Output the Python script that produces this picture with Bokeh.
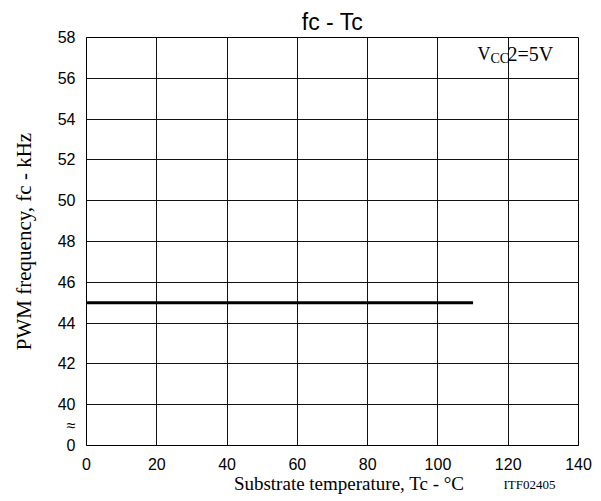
from bokeh.plotting import figure
from bokeh.models import Range1d, Label, FixedTicker, Title
from bokeh.embed import file_html
from bokeh.resources import INLINE

# Data
temps = [0, 110]
freq_khz = [45, 45]
x_ticks = [0, 20, 40, 60, 80, 100, 120, 140]
grid_y = [38, 40, 42, 44, 46, 48, 50, 52, 54, 56, 58]
y_ticks = [38, 39, 40, 42, 44, 46, 48, 50, 52, 54, 56, 58]
y_labels = {38: "0", 39: "≈"}

p = figure(width=600, height=500, output_backend="svg", toolbar_location=None,
           x_range=Range1d(0, 140), y_range=Range1d(38, 58),
           min_border_left=86, min_border_right=22, min_border_top=37, min_border_bottom=55)
p.background_fill_color = "white"
p.border_fill_color = "white"
p.outline_line_color = "black"
p.outline_line_width = 1

p.title.text = "fc - Tc"
p.title.align = "center"
p.title.text_font = "Liberation Sans"
p.title.text_font_size = "23px"
p.title.text_font_style = "normal"
p.title.text_color = "black"
p.title.standoff = 6

p.xaxis.ticker = FixedTicker(ticks=x_ticks)
p.yaxis.ticker = FixedTicker(ticks=y_ticks)
p.yaxis.major_label_overrides = {k: v for k, v in y_labels.items()}
for ax in (p.xaxis[0], p.yaxis[0]):
    ax.major_tick_line_color = None
    ax.minor_tick_line_color = None
    ax.axis_line_color = "black"
    ax.axis_line_width = 1
    ax.major_label_text_font = "Liberation Sans"
    ax.major_label_text_font_size = "16px"
    ax.major_label_text_color = "black"
    ax.axis_label_text_font = "Liberation Serif"
    ax.axis_label_text_font_style = "normal"
    ax.axis_label_text_color = "black"
p.xaxis.major_label_standoff = 6
p.yaxis.major_label_standoff = 5
p.xaxis.axis_label = "\u00a0" * 7 + "Substrate temperature, Tc - °C"
p.xaxis.axis_label_text_font_size = "19px"
p.xaxis.axis_label_standoff = 0
p.yaxis.axis_label = "PWM frequency, fc - kHz"
p.yaxis.axis_label_text_font_size = "21px"
p.yaxis.axis_label_standoff = 19

p.add_layout(Title(text="ITF02405", align="right", vertical_align="top",
                   text_font="Liberation Serif", text_font_size="13px",
                   text_font_style="normal", text_color="black",
                   standoff=-40, offset=23), "below")

p.xgrid.ticker = FixedTicker(ticks=x_ticks)
p.ygrid.ticker = FixedTicker(ticks=grid_y)
for g in (p.xgrid[0], p.ygrid[0]):
    g.grid_line_color = "#111111"
    g.grid_line_width = 1
    g.grid_line_alpha = 1.0

p.line(temps, freq_khz, line_color="black", line_width=3)

def lab(x, y, text, size, font="Liberation Serif", align="left", baseline="alphabetic"):
    p.add_layout(Label(x=x, y=y, text=text, text_font=font, text_font_size=size,
                       text_align=align, text_baseline=baseline, text_color="black"))

pxu = 492 / 140.0
pyu = 408 / 20.0
def X(px):
    return (px - 86) / pxu
def Y(py):
    return 58 - (py - 37) / pyu

# Annotation
lab(X(477), Y(53), "V", "18px")
lab(X(490), Y(58), "CC", "14px")
lab(X(507), Y(53), "2=5V", "20px")

open("out.html", "w").write(file_html(p, INLINE))
